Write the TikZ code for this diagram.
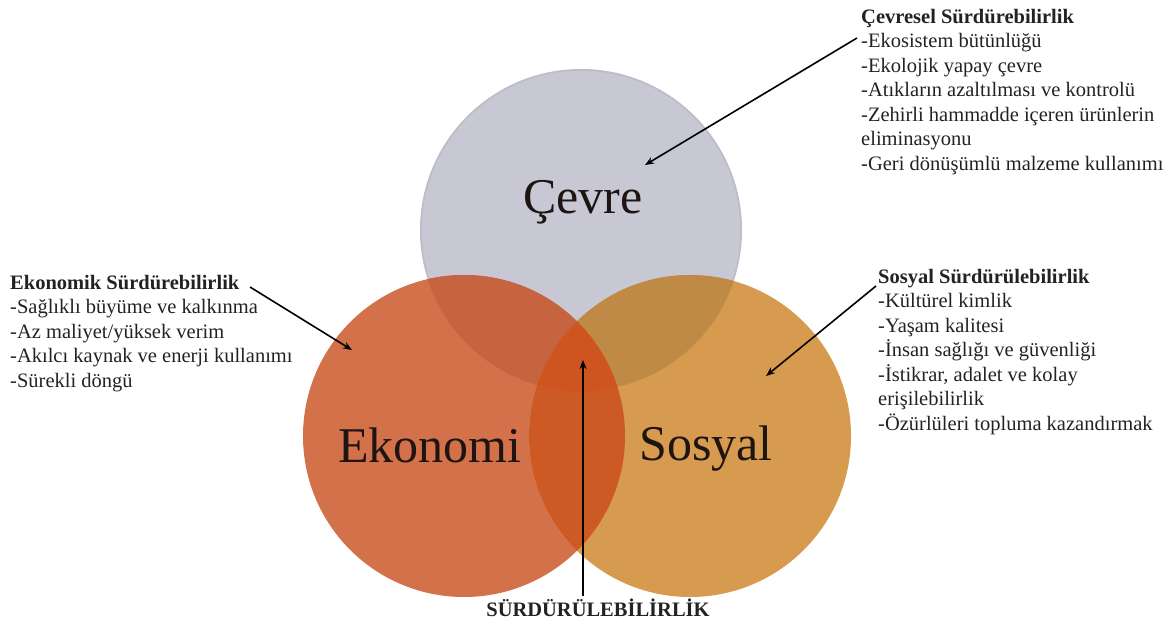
\documentclass[tikz,border=0pt]{standalone}
\usepackage{fontspec}
\setmainfont{Liberation Serif}
\usetikzlibrary{arrows.meta}
\definecolor{cgray}{HTML}{C7C8D4}
\definecolor{crim}{HTML}{BCBDC9}
\definecolor{ceko}{HTML}{D3714B}
\definecolor{csos}{HTML}{D79B4F}
\definecolor{cge}{HTML}{C6643F}
\definecolor{cgs}{HTML}{BE8A45}
\definecolor{ces}{HTML}{CD5A25}
\definecolor{ctri}{HTML}{CF5520}
\definecolor{ctext}{HTML}{222222}
\definecolor{cbig}{HTML}{1E1412}
\tikzset{
  arr/.style={line width=1.6pt, -{Stealth[length=9pt,width=7pt]}},
  body/.style={align=left, inner sep=0pt, anchor=north west, text=ctext, font=\fontsize{20.5}{24.5}\selectfont},
  big/.style={inner sep=0pt, anchor=base, font=\fontsize{50}{60}\selectfont, text=cbig}
}
\begin{document}
\begin{tikzpicture}[x=1pt,y=-1pt]
\useasboundingbox (0,0) rectangle (1174,625);
\coordinate (C) at (581,230);
\coordinate (E) at (464,436);
\coordinate (S) at (690,436);
\def\R{161pt}
% base circles
\fill[cgray] (C) circle (\R);
\draw[crim, line width=1.5pt] (C) circle (160pt);
\fill[ceko] (E) circle (\R);
\fill[csos] (S) circle (\R);
% overlaps
\begin{scope}
  \clip (C) circle (\R);
  \fill[cge] (E) circle (\R);
  \fill[cgs] (S) circle (\R);
\end{scope}
\begin{scope}
  \clip (E) circle (\R);
  \fill[ces] (S) circle (\R);
  \clip (C) circle (\R);
  \fill[ctri] (S) circle (\R);
\end{scope}
% circle labels
\node[big] (lcev) at (583,213) {Çevre};
\node[big] (leko) at (430,462) {Ekonomi};
\node[big] (lsos) at (706,460) {Sosyal};
% text blocks
\node[body] (tcev) at (861,9) {\textbf{Çevresel Sürdürebilirlik}\\-Ekosistem bütünlüğü\\-Ekolojik yapay çevre\\-Atıkların azaltılması ve kontrolü\\-Zehirli hammadde içeren ürünlerin\\eliminasyonu\\-Geri dönüşümlü malzeme kullanımı};
\node[body] (teko) at (10,275) {\textbf{Ekonomik Sürdürebilirlik}\\-Sağlıklı büyüme ve kalkınma\\-Az maliyet/yüksek verim\\-Akılcı kaynak ve enerji kullanımı\\-Sürekli döngü};
\node[body] (tsos) at (878,269) {\textbf{Sosyal Sürdürülebilirlik}\\-Kültürel kimlik\\-Yaşam kalitesi\\-İnsan sağlığı ve güvenliği\\-İstikrar, adalet ve kolay\\erişilebilirlik\\-Özürlüleri topluma kazandırmak};
\node[inner sep=0pt, anchor=base, text=ctext, font=\fontsize{20.5}{24}\selectfont\bfseries] (tsur) at (598,616) {SÜRDÜRÜLEBİLİRLİK};
% arrows
\coordinate (acs) at (857,38);
\coordinate (ace) at (645,165);
\coordinate (aes) at (250,287);
\coordinate (aee) at (352,350);
\coordinate (ass) at (876,286);
\coordinate (ase) at (766,376);
\coordinate (aus) at (583,596);
\coordinate (aue) at (583,360);
\draw[arr] (acs) -- (ace);
\draw[arr] (aes) -- (aee);
\draw[arr] (ass) -- (ase);
\draw[arr] (aus) -- (aue);
\end{tikzpicture}
\end{document}
